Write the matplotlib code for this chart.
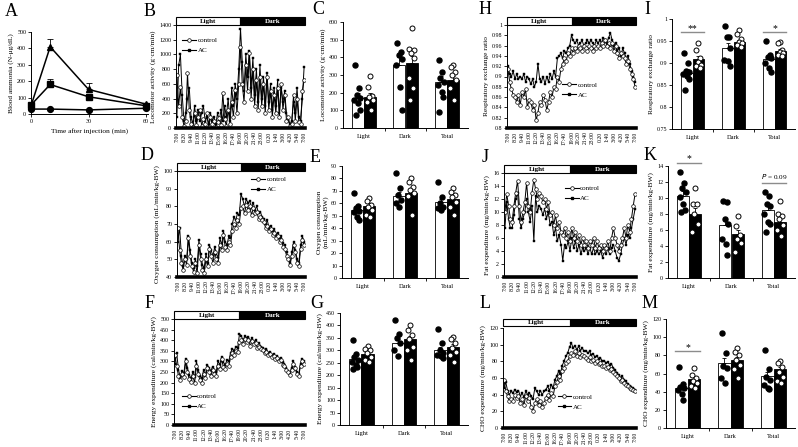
import numpy as np
import matplotlib
matplotlib.use("Agg")
import matplotlib.pyplot as plt
import matplotlib.transforms as mtransforms
from matplotlib.patches import Rectangle
from matplotlib.lines import Line2D

plt.rcParams['font.family'] = ['Liberation Serif', 'DejaVu Serif']

# --- A : blood ammonia
a_time = [0, 10, 30, 60]
a_tri = [50, 410, 150, 60]
a_tri_err = [5, 45, 40, 5]
a_sq = [55, 180, 105, 50]
a_sq_err = [8, 35, 10, 5]
a_circ = [30, 30, 25, 35]
a_circ_err = [3, 3, 3, 3]

# --- time axis (20 min steps, 7:00 -> 7:00)
time_labels = ['7:00', '8:20', '9:40', '11:00', '12:20', '13:40', '15:00', '16:20', '17:40',
               '19:00', '20:20', '21:40', '23:00', '0:20', '1:40', '3:00', '4:20', '5:40', '7:00']

# B locomotor activity
b_ctrl = [720, 300, 560, 150, 30, 100, 750, 250, 60, 20, 200, 40,
          150, 250, 30, 120, 60, 200, 20, 150, 50, 100, 20, 80,
          130, 40, 480, 120, 30, 250, 60, 350, 150, 520, 200, 600,
          1100, 600, 350, 850, 500, 1020, 400, 800, 300, 650, 250, 700,
          300, 600, 200, 700, 250, 500, 150, 450, 200, 550, 150, 600,
          250, 450, 100, 150, 30, 60, 450, 100, 400, 80, 50, 500,
          650]
b_ac = [150, 850, 1000, 450, 100, 200, 400, 550, 150, 50, 300, 100,
        250, 100, 200, 300, 100, 150, 50, 200, 100, 150, 50, 200,
        100, 250, 100, 300, 150, 400, 100, 550, 300, 600, 400, 800,
        1350, 900, 500, 1000, 700, 1050, 550, 950, 450, 800, 350, 850,
        400, 700, 300, 750, 350, 600, 250, 550, 300, 650, 200, 550,
        350, 500, 200, 100, 50, 100, 350, 200, 550, 150, 100, 400,
        830]

# D oxygen consumption
d_ctrl = [68, 55, 48, 44, 50, 47, 62, 52, 46, 43, 48, 42,
          58, 50, 44, 42, 50, 46, 56, 52, 48, 54, 50, 48,
          58, 55, 64, 57, 55, 60, 58, 66, 70, 68, 72, 70,
          79, 80, 76, 81, 78, 80, 75, 79, 76, 77, 73, 74,
          72, 71, 68, 69, 66, 67, 64, 65, 62, 63, 60, 61,
          57, 56, 52, 50, 47, 52, 58, 54, 48, 46, 56, 61,
          58]
d_ac = [60, 68, 52, 46, 52, 50, 63, 55, 48, 45, 50, 46,
        61, 53, 47, 45, 53, 48, 58, 55, 52, 57, 53, 51,
        62, 58, 66, 60, 58, 63, 62, 70, 74, 72, 76, 75,
        87, 84, 80, 84, 82, 83, 79, 82, 78, 80, 76, 77,
        74, 73, 70, 72, 68, 69, 66, 67, 64, 65, 62, 63,
        59, 58, 54, 51, 48, 54, 60, 55, 50, 48, 58, 63,
        60]

# F energy expenditure
f_ctrl = [330, 280, 230, 210, 240, 225, 300, 250, 215, 205, 230, 200,
          280, 240, 210, 200, 240, 220, 270, 250, 230, 260, 240, 230,
          280, 265, 310, 275, 265, 290, 280, 320, 340, 330, 350, 345,
          390, 400, 380, 405, 390, 400, 375, 395, 380, 385, 365, 370,
          360, 355, 340, 345, 330, 335, 320, 325, 310, 315, 300, 305,
          285, 280, 260, 250, 235, 260, 290, 270, 240, 230, 280, 300,
          290]
f_ac = [290, 340, 260, 225, 255, 245, 310, 270, 235, 220, 250, 225,
        300, 260, 230, 220, 260, 235, 285, 270, 255, 275, 260, 250,
        300, 285, 320, 295, 285, 305, 300, 340, 360, 350, 370, 365,
        430, 420, 400, 420, 410, 415, 395, 410, 390, 400, 380, 385,
        370, 365, 350, 360, 340, 345, 330, 335, 320, 325, 310, 315,
        295, 290, 270, 255, 240, 270, 300, 275, 250, 240, 290, 310,
        300]

# H respiratory exchange ratio
h_ctrl = [0.915, 0.89, 0.875, 0.865, 0.86, 0.85, 0.865, 0.845, 0.87, 0.86, 0.875, 0.84,
          0.855, 0.85, 0.835, 0.845, 0.815, 0.83, 0.85, 0.845, 0.865, 0.855, 0.835, 0.85,
          0.87, 0.86, 0.88, 0.875, 0.9, 0.89, 0.915, 0.925, 0.935, 0.93, 0.945, 0.94,
          0.955, 0.945, 0.955, 0.95, 0.96, 0.955, 0.95, 0.96, 0.955, 0.95, 0.96, 0.955,
          0.95, 0.96, 0.955, 0.96, 0.955, 0.965, 0.96, 0.97, 0.96, 0.965, 0.955, 0.965,
          0.95, 0.96, 0.945, 0.935, 0.945, 0.94, 0.935, 0.925, 0.93, 0.915, 0.905, 0.895,
          0.88]
h_ac = [0.92, 0.905, 0.9, 0.91, 0.895, 0.905, 0.895, 0.9, 0.895, 0.905, 0.89, 0.9,
        0.895, 0.885, 0.895, 0.88, 0.89, 0.925, 0.895, 0.89, 0.9, 0.885, 0.9, 0.89,
        0.905, 0.895, 0.91, 0.9, 0.935, 0.94, 0.945, 0.935, 0.95, 0.945, 0.955, 0.96,
        0.98, 0.97, 0.965, 0.97, 0.96, 0.965, 0.97, 0.96, 0.965, 0.97, 0.965, 0.97,
        0.965, 0.96, 0.97, 0.965, 0.97, 0.965, 0.975, 0.97, 0.965, 0.975, 0.985, 0.97,
        0.96, 0.965, 0.95, 0.955, 0.94, 0.955, 0.945, 0.935, 0.94, 0.925, 0.91, 0.9,
        0.89]

# J fat expenditure
j_ctrl = [10, 12.8, 11, 9, 8.5, 11, 13, 14.8, 11, 8.5, 10, 11.5,
          14.5, 11, 10, 13, 15, 13.5, 12, 13, 12.5, 11.5, 12, 10.5,
          11.5, 9.5, 10, 8, 9.5, 7.5, 8.5, 7, 6.5, 7.5, 6, 7,
          5.5, 7.5, 6, 7, 5.5, 6.5, 5, 6, 5, 5.5, 4.5, 5.5,
          5, 6, 4.5, 5.5, 4.5, 5, 4, 5, 4.5, 5.5, 4, 6,
          7.5, 6, 5, 4, 5, 6, 7.5, 6, 8, 7, 9, 11,
          12.8]
j_ac = [7.5, 11.5, 9, 7.5, 7.5, 9.5, 12, 13, 9, 7.5, 9, 10,
        12, 10, 8.5, 11, 5.5, 12.5, 10, 11, 10.5, 9.5, 10.5, 9,
        10, 8, 8.5, 6.5, 7.5, 5.5, 6.5, 5, 2.5, 5, 4.5, 5.5,
        4, 6, 4.5, 5.5, 4, 5, 3.5, 4.5, 4, 4.5, 3.5, 4.5,
        3.5, 4.5, 3.5, 4, 3.5, 4, 3, 4, 3.5, 4.5, 3.5, 4.5,
        5, 4, 3, 2.5, 3.5, 5, 6, 5, 6.5, 6, 7.5, 9,
        10.5]

# L CHO expenditure
l_ctrl = [58, 45, 38, 32, 35, 33, 40, 36, 38, 30, 35, 28,
          38, 33, 36, 25, 20, 30, 35, 28, 33, 25, 30, 36,
          40, 34, 42, 38, 50, 55, 62, 58, 68, 72, 78, 80,
          86, 90, 88, 92, 86, 90, 85, 88, 86, 84, 82, 85,
          80, 82, 78, 80, 77, 78, 74, 75, 72, 73, 70, 71,
          67, 65, 62, 60, 56, 58, 54, 52, 50, 48, 47, 46,
          44]
l_ac = [48, 55, 45, 40, 44, 42, 46, 43, 45, 38, 42, 37,
        44, 40, 42, 38, 35, 48, 44, 40, 45, 40, 44, 46,
        50, 45, 52, 48, 58, 62, 68, 65, 75, 80, 86, 90,
        97, 102, 96, 99, 94, 98, 93, 96, 92, 93, 90, 92,
        88, 89, 85, 87, 83, 84, 80, 81, 78, 79, 76, 77,
        72, 70, 66, 64, 60, 62, 58, 56, 53, 50, 49, 48,
        46]

# --- bar panels (Light, Dark, Total)
groups = ['Light', 'Dark', 'Total']

c_ctrl_bar = [170, 357, 262]
c_ac_bar = [175, 368, 272]
c_ctrl_err = [30, 45, 32]
c_ac_err = [22, 42, 25]
c_ctrl_pts = [[357, 226, 187, 170, 160, 141, 102, 74], [481, 430, 413, 390, 357, 232, 102],
              [385, 317, 283, 262, 243, 204, 175, 91]]
c_ac_pts = [[294, 232, 180, 175, 158, 150, 102], [566, 450, 441, 424, 396, 283, 226, 158],
            [357, 345, 317, 300, 270, 226, 158]]

e_ctrl_bar = [54.5, 66, 61]
e_ac_bar = [58, 68.5, 63.5]
e_ctrl_err = [2.5, 3.5, 2.5]
e_ac_err = [2, 3, 2.5]
e_ctrl_pts = [[68, 58, 56, 54, 53, 49, 47], [84, 72, 67, 63, 60, 57], [77, 65, 60, 57, 56, 55]]
e_ac_pts = [[64, 62, 59, 57, 55, 51, 49], [80, 77, 73, 71, 68, 66, 51], [72, 69, 67, 65, 61, 57, 51]]

g_ctrl_bar = [265, 330, 301]
g_ac_bar = [285, 345, 313]
g_ctrl_err = [12, 15, 12]
g_ac_err = [10, 14, 11]
g_ctrl_pts = [[343, 286, 275, 262, 252, 240, 232, 226], [422, 365, 350, 330, 300, 278],
              [385, 329, 300, 290, 282, 278, 270]]
g_ac_pts = [[318, 305, 300, 290, 275, 262, 255], [402, 382, 361, 345, 313, 301, 261],
            [353, 345, 329, 309, 295, 281, 253]]

i_ctrl_bar = [0.878, 0.935, 0.908]
i_ac_bar = [0.909, 0.948, 0.928]
i_ctrl_err = [0.008, 0.011, 0.008]
i_ac_err = [0.006, 0.005, 0.004]
i_ctrl_pts = [[0.922, 0.899, 0.882, 0.880, 0.876, 0.870, 0.863, 0.839],
              [0.984, 0.960, 0.958, 0.935, 0.907, 0.905, 0.893],
              [0.951, 0.918, 0.914, 0.911, 0.900, 0.888, 0.880]]
i_ac_pts = [[0.946, 0.930, 0.911, 0.903, 0.896, 0.893, 0.888],
            [0.975, 0.967, 0.954, 0.948, 0.945, 0.941, 0.936],
            [0.948, 0.945, 0.930, 0.926, 0.922, 0.918, 0.915]]

k_ctrl_bar = [10.3, 6.6, 8.5]
k_ac_bar = [8.05, 5.45, 7.0]
k_ctrl_err = [0.6, 0.9, 0.6]
k_ac_err = [0.7, 0.6, 0.5]
k_ctrl_pts = [[13.3, 11.9, 11.2, 10.8, 10.1, 9.2, 8.5, 8.25], [9.6, 9.55, 7.4, 6.7, 4.9, 4.2, 2.9],
              [10.75, 10.3, 9.3, 9.0, 8.0, 7.0, 6.8, 5.75]]
k_ac_pts = [[11.25, 9.3, 9.2, 8.0, 6.8, 5.7], [7.8, 6.5, 5.4, 4.9, 4.4, 3.2],
            [9.6, 8.0, 7.8, 7.4, 6.6, 6.0, 5.25]]

m_ctrl_bar = [43.5, 71.2, 57.2]
m_ac_bar = [53.5, 75.0, 64.6]
m_ctrl_err = [4, 5.6, 4.5]
m_ac_err = [2.5, 3.5, 3]
m_ctrl_pts = [[67.5, 48, 45.4, 44, 41.7, 37.3, 30.6], [105, 83, 68, 65.7, 55.4, 49],
              [86, 64.6, 56.5, 52.8, 47.2, 44, 42.4]]
m_ac_pts = [[66.4, 58.3, 54.6, 52, 50, 46, 43.5], [87.8, 84, 80.4, 75, 69.4, 65, 54.6],
            [74.2, 71.2, 66.8, 62, 56.5, 52, 49.8]]

W, H = 798, 447
fig = plt.figure(figsize=(W / 100, H / 100), dpi=100)

TICK_FS = 4.3
LAB_FS = 5.3


def box(l, t, r, b):
    return fig.add_axes([l / W, 1 - b / H, (r - l) / W, (b - t) / H])


def base_style(ax):
    for s in ['top', 'right']:
        ax.spines[s].set_visible(False)
    for s in ['left', 'bottom']:
        ax.spines[s].set_linewidth(0.7)
    ax.tick_params(labelsize=TICK_FS, width=0.6, length=2, pad=1.5, direction='out')


def set_yaxis(ax, ylim, yticks, ylabel):
    ax.set_ylim(*ylim)
    ax.set_yticks(yticks)
    ax.set_yticklabels(['%g' % v for v in yticks])
    ax.set_ylabel(ylabel, fontsize=LAB_FS, labelpad=2, linespacing=1.0)


def ts_panel(ax, ctrl, ac, ylim, yticks, ylabel, leg_anchor, gap=0.0):
    base_style(ax)
    x = np.arange(len(ctrl))
    ax.plot(x, ac, '-s', color='k', lw=0.7, ms=1.9, mfc='k', mec='k', mew=0.3)
    ax.plot(x, ctrl, '-o', color='k', lw=0.7, ms=2.6, mfc='white', mec='k', mew=0.5)
    ax.set_xlim(-0.5, len(ctrl) - 0.5)
    set_yaxis(ax, ylim, yticks, ylabel)
    ax.set_xticks(range(0, len(ctrl), 4))
    ax.set_xticklabels(time_labels, rotation=90, fontsize=4.1)
    ax.tick_params(axis='x', length=0, pad=2.5)
    ax.spines['bottom'].set_linewidth(2.6)
    # light / dark bar
    trans = mtransforms.blended_transform_factory(ax.transData, ax.transAxes)
    mid = 36
    x0, x1 = -0.5, len(ctrl) - 0.5
    ax.add_patch(Rectangle((x0, 1 + gap), mid - x0, 0.075, transform=trans, clip_on=False,
                           facecolor='white', edgecolor='k', lw=0.8))
    ax.add_patch(Rectangle((mid, 1 + gap), x1 - mid, 0.075, transform=trans, clip_on=False,
                           facecolor='black', edgecolor='k', lw=0.8))
    ax.text((x0 + mid) / 2, 1 + gap + 0.037, 'Light', transform=trans, ha='center', va='center',
            fontsize=5, fontweight='bold', color='k')
    ax.text((mid + x1) / 2, 1 + gap + 0.037, 'Dark', transform=trans, ha='center', va='center',
            fontsize=5, fontweight='bold', color='white')
    handles = [Line2D([], [], color='k', lw=0.8, marker='o', ms=2.6, mfc='white', mec='k', mew=0.5),
               Line2D([], [], color='k', lw=0.8, marker='s', ms=2.0, mfc='k', mec='k')]
    ax.legend(handles, ['control', 'AC'], loc='upper left', bbox_to_anchor=leg_anchor, frameon=False,
              fontsize=5, handlelength=2.0, handletextpad=0.2, labelspacing=0.6, borderpad=0,
              borderaxespad=0)


jit_c = [-0.06, 0.03, -0.02, 0.06, -0.08, 0.01, 0.05, -0.04]
jit_a = [0.0, -0.05, 0.05, -0.02, 0.07, -0.07, 0.03, -0.03]
BW = 0.29


def bar_panel(ax, cb, ab, ce, ae, cp, ap, ylim, yticks, ylabel):
    base_style(ax)
    xs = np.arange(len(groups))
    ekw = dict(lw=0.6, capsize=1.5, capthick=0.6, ecolor='k')
    ax.bar(xs - BW / 2, cb, BW, color='white', edgecolor='k', lw=0.6,
           yerr=[[0] * 3, ce], error_kw=ekw, zorder=2)
    ax.bar(xs + BW / 2, ab, BW, color='black', edgecolor='k', lw=0.6,
           yerr=[[0] * 3, ae], error_kw=ekw, zorder=2)
    for i in range(len(groups)):
        for j, v in enumerate(cp[i]):
            ax.plot(xs[i] - BW / 2 + jit_c[j], v, 'o', ms=3.6, mfc='k', mec='k', zorder=3, clip_on=False)
        for j, v in enumerate(ap[i]):
            ax.plot(xs[i] + BW / 2 + jit_a[j], v, 'o', ms=3.6, mfc='white', mec='k', mew=0.7,
                    zorder=3, clip_on=False)
    ax.set_xlim(-0.5, 2.5)
    ax.set_xticks(xs)
    ax.set_xticklabels(groups, fontsize=4.6)
    ax.set_xticks([0.5, 1.5], minor=True)
    ax.tick_params(axis='x', which='major', length=0, pad=4)
    ax.tick_params(axis='x', which='minor', length=2, width=0.6)
    set_yaxis(ax, ylim, yticks, ylabel)


def sig(ax, i, y, label, ty, fs=7, style='normal'):
    ax.plot([i - BW, i + BW], [y, y], color='0.55', lw=1.0, clip_on=False, zorder=4)
    ax.text(i, ty, label, ha='center', va='center', fontsize=fs, style=style)


def letter(x, y, s):
    fig.text(x / W, 1 - y / H, s, fontsize=13, ha='center', va='center')


# A
ax = box(31, 32, 148, 114)
base_style(ax)
z = [0, 0, 0, 0]
ax.errorbar(a_time, a_tri, yerr=[z, a_tri_err], fmt='-^', color='k', ms=4.2, lw=1.1,
            elinewidth=0.6, capsize=2, capthick=0.6, clip_on=False)
ax.errorbar(a_time, a_sq, yerr=[z, a_sq_err], fmt='-s', color='k', ms=4.2, lw=1.1,
            elinewidth=0.6, capsize=2, capthick=0.6, clip_on=False)
ax.errorbar(a_time, a_circ, yerr=[z, a_circ_err], fmt='-o', color='k', ms=4.2, lw=1.1,
            elinewidth=0.6, capsize=2, capthick=0.6, clip_on=False)
ax.set_xlim(0, 61)
ax.set_xticks([0, 30, 60])
set_yaxis(ax, (0, 500), [0, 100, 200, 300, 400, 500], 'Blood ammonia (N-\u03bcg/dL)')
ax.set_xlabel('Time after injection (min)', fontsize=LAB_FS, labelpad=3)

# B, D, F
ts_panel(box(176, 25, 305, 128), b_ctrl, b_ac, (0, 1400), list(range(0, 1401, 200)),
         'Locomotor activity (g\u00b7cm/min)', (0.05, 0.88))
ts_panel(box(177, 171, 305, 277), d_ctrl, d_ac, (40, 100), list(range(40, 101, 10)),
         'Oxygen consumption (mL/min/kg-BW)', (0.58, 0.95))
ts_panel(box(174, 319, 305, 425), f_ctrl, f_ac, (0, 500), list(range(0, 501, 50)),
         'Energy expenditure (cal/min/kg-BW)', (0.06, 0.3))

# H, J, L
ts_panel(box(507, 25, 636, 128), h_ctrl, h_ac, (0.8, 1.0),
         [0.8, 0.82, 0.84, 0.86, 0.88, 0.9, 0.92, 0.94, 0.96, 0.98, 1.0],
         'Respiratory exchange ratio', (0.43, 0.45))
ts_panel(box(504, 173, 636, 277), j_ctrl, j_ac, (0, 16), list(range(0, 17, 2)),
         'Fat expenditure (mg/min/kg-BW)', (0.46, 0.88))
ts_panel(box(503, 328, 636, 428), l_ctrl, l_ac, (0, 120), list(range(0, 121, 20)),
         'CHO expenditure (mg/min/kg-BW)', (0.41, 0.34), gap=0.02)

# C, E, G
bar_panel(box(343, 22, 468, 128), c_ctrl_bar, c_ac_bar, c_ctrl_err, c_ac_err, c_ctrl_pts, c_ac_pts,
          (0, 600), list(range(0, 601, 100)), 'Locomotor activity (g\u00b7cm/min)')
bar_panel(box(342, 166, 468, 278), e_ctrl_bar, e_ac_bar, e_ctrl_err, e_ac_err, e_ctrl_pts, e_ac_pts,
          (0, 90), list(range(0, 91, 10)), 'Oxygen consumption\n(mL/min/kg-BW)')
bar_panel(box(340, 313, 468, 425), g_ctrl_bar, g_ac_bar, g_ctrl_err, g_ac_err, g_ctrl_pts, g_ac_pts,
          (0, 450), list(range(0, 451, 50)), 'Energy expenditure (cal/min/kg-BW)')

# I, K, M
ax_i = box(672, 19, 795, 129)
bar_panel(ax_i, i_ctrl_bar, i_ac_bar, i_ctrl_err, i_ac_err, i_ctrl_pts, i_ac_pts,
          (0.75, 1.0), [0.75, 0.8, 0.85, 0.9, 0.95, 1.0], 'Respiratory exchange ratio')
sig(ax_i, 0, 0.970, '**', 0.978)
sig(ax_i, 2, 0.970, '*', 0.978)

ax_k = box(668, 166, 795, 278)
bar_panel(ax_k, k_ctrl_bar, k_ac_bar, k_ctrl_err, k_ac_err, k_ctrl_pts, k_ac_pts,
          (0, 14), list(range(0, 15, 2)), 'Fat expenditure (mg/min/kg-BW)')
sig(ax_k, 0, 14.4, '*', 14.95)
sig(ax_k, 2, 11.9, '$P$ = 0.09', 12.65, fs=5.2)

ax_m = box(666, 319, 795, 428)
bar_panel(ax_m, m_ctrl_bar, m_ac_bar, m_ctrl_err, m_ac_err, m_ctrl_pts, m_ac_pts,
          (0, 120), list(range(0, 121, 20)), 'CHO expenditure (mg/min/kg-BW)')
sig(ax_m, 0, 85, '*', 89)

# panel letters
letter(11, 11, 'A')
letter(150, 11, 'B')
letter(318, 10, 'C')
letter(485, 10, 'H')
letter(647, 10, 'I')
letter(147, 156, 'D')
letter(315, 158, 'E')
letter(485, 157, 'J')
letter(650, 155, 'K')
letter(150, 303, 'F')
letter(317, 303, 'G')
letter(485, 303, 'L')
letter(650, 303, 'M')

fig.savefig('out.png', dpi=100)
